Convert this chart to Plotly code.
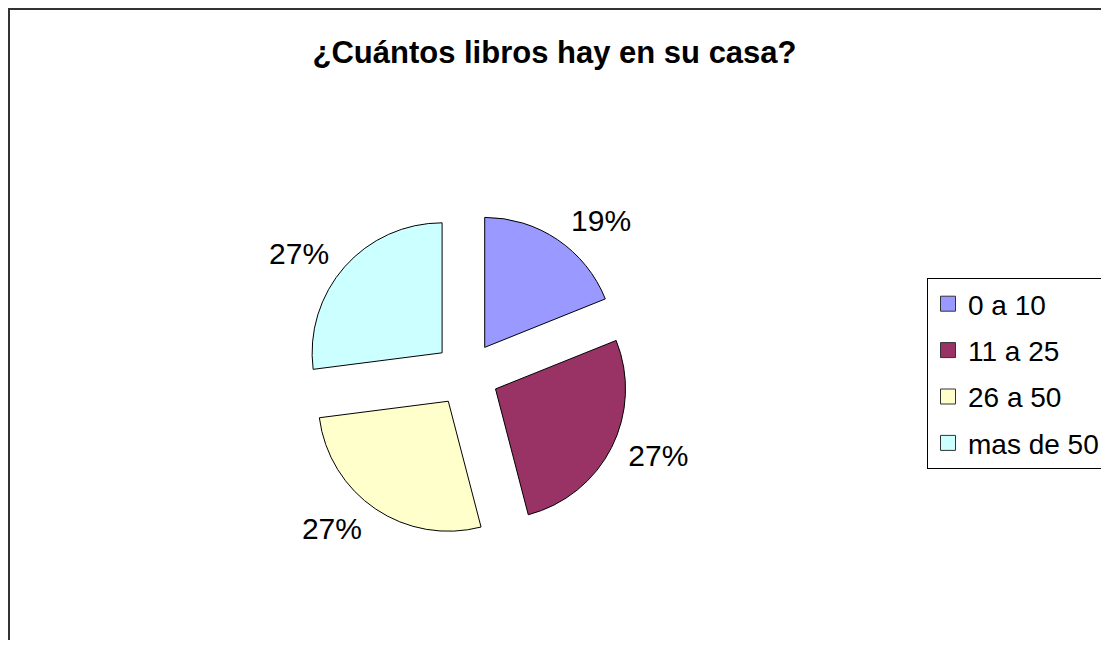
import plotly.graph_objects as go

# Data
categories = ['0 a 10', '11 a 25', '26 a 50', 'mas de 50']
counts = [7, 10, 10, 10]
colors = ['#9999FF', '#993366', '#FFFFCC', '#CCFFFF']

OFF = 8  # page body margin in the browser
W, H = 1109 - 2 * OFF, 648 - 2 * OFF  # fit the window, no scrollbars
FONT = 'Liberation Sans, Arial, sans-serif'


def dom(cx, cy, size):
    # square domain (pixel centre/size on screen) -> paper fractions
    cx, cy = cx - OFF, cy - OFF
    return dict(x=[(cx - size / 2) / W, (cx + size / 2) / W],
                y=[1 - (cy + size / 2) / H, 1 - (cy - size / 2) / H])


CX, CY = 466.5, 374.3

fig = go.Figure()

# transparent, slightly larger copy that only carries the percentage labels
fig.add_trace(go.Pie(
    labels=categories, values=counts, sort=False, direction='clockwise',
    pull=[33 / 139] * len(counts),
    marker=dict(colors=['rgba(0,0,0,0)'] * 4, line=dict(width=0)),
    texttemplate='%{percent:.0%}', textposition='outside',
    textfont=dict(family=FONT, size=30, color='#000000'),
    hoverinfo='skip', showlegend=False,
    domain=dom(CX, CY, 2 * 139 * (1 + 33 / 139)),
))

# the exploded pie itself
fig.add_trace(go.Pie(
    labels=categories, values=counts, sort=False, direction='clockwise',
    pull=[0.25] * len(counts),
    marker=dict(colors=colors, line=dict(color='#000000', width=1)),
    textinfo='none', showlegend=False,
    domain=dom(CX, CY, 2 * 130 * 1.25),
))

# legend entries (one per category so the rows can be spaced out)
for name, col in zip(categories, colors):
    fig.add_trace(go.Scatter(
        x=[None], y=[None], mode='markers', name=name, legendgroup=name,
        marker=dict(symbol='square', size=15, color=col,
                    line=dict(color='#333333', width=1)),
    ))

fig.update_xaxes(visible=False)
fig.update_yaxes(visible=False)

# chart frame
fig.add_shape(type='rect', xref='paper', yref='paper',
              x0=1 / W, x1=1.05, y0=-0.05, y1=1 - 1 / H,
              line=dict(color='#333333', width=2), fillcolor='rgba(0,0,0,0)')

fig.update_layout(
    width=W, height=H,
    margin=dict(l=0, r=0, t=0, b=0, autoexpand=False),
    paper_bgcolor='white', plot_bgcolor='white',
    title=dict(text='¿Cuántos libros hay en su casa?', x=(554.5 - OFF) / W, xanchor='center',
               y=1 - 44 / H, yanchor='middle', yref='container',
               font=dict(family=FONT, size=31, color='#000000', weight=700)),
    legend=dict(x=(927 - OFF) / W, xanchor='left', y=1 - (278 - OFF) / H, yanchor='top',
                bgcolor='white', bordercolor='#000000', borderwidth=1,
                font=dict(family=FONT, size=28, color='#000000'),
                traceorder='grouped', tracegroupgap=7),
)

fig.write_html('out.html')
